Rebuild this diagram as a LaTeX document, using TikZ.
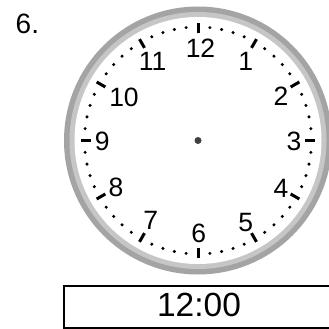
\documentclass[tikz,border=0pt]{standalone}
\usepackage{fontspec}
\setmainfont{Liberation Sans}
\definecolor{ringdark}{HTML}{A4A4A4}
\definecolor{ringlight}{HTML}{C6C6C6}
\definecolor{hubgray}{HTML}{404040}
\begin{document}
\begin{tikzpicture}[x=1pt,y=-1pt,
  num/.style={inner sep=0pt,font=\fontsize{26.5}{30}\selectfont},
  hourtick/.style={line width=3pt,black},
  mindot/.style={fill=black,draw=none}]
\useasboundingbox (0,0) rectangle (329,329);
\fill[white] (0,0) rectangle (329,329);
% label
\node[anchor=base west,inner sep=0pt,font=\fontsize{28}{32}\selectfont] (lbl) at (15.5,33.3) {6.};
% ring
\coordinate (c) at (198,140.5);
\fill[ringdark] (c) circle[radius=134];
\fill[ringlight] (c) circle[radius=128.5];
\fill[white] (c) circle[radius=123.5];
% ticks and dots
\foreach \m in {0,...,59}{
  \pgfmathsetmacro{\a}{6*\m}
  \pgfmathtruncatemacro{\r}{mod(\m,5)}
  \ifnum\r=0
    \draw[hourtick] ({198+107*sin(\a)},{140.5-107*cos(\a)}) -- ({198+117*sin(\a)},{140.5-117*cos(\a)});
  \else
    \fill[mindot] ({198+113.5*sin(\a)},{140.5-113.5*cos(\a)}) circle[radius=1.7];
  \fi
}
% numbers
\node[num] (n12) at (200.5,48) {12};
\node[num] (n1) at (245.7,61.7) {1};
\node[num] (n2) at (281,96.7) {2};
\node[num] (n3) at (294,141.7) {3};
\node[num] (n4) at (281,188.3) {4};
\node[num] (n5) at (245.7,222.7) {5};
\node[num] (n6) at (198.7,233) {6};
\node[num] (n7) at (150.7,220) {7};
\node[num] (n8) at (116,187.7) {8};
\node[num] (n9) at (102.3,141.7) {9};
\node[num] (n10) at (124,97.3) {10};
\node[num] (n11) at (152.7,61.7) {11};
% hub
\fill[hubgray] (c) circle[radius=3.5];
% answer box
\draw[line width=1.3pt] (64,286) rectangle (345,328);
\node[inner sep=0pt,font=\fontsize{33.5}{38}\selectfont] (ans) at (199,305) {12:00};
\end{tikzpicture}
\end{document}
